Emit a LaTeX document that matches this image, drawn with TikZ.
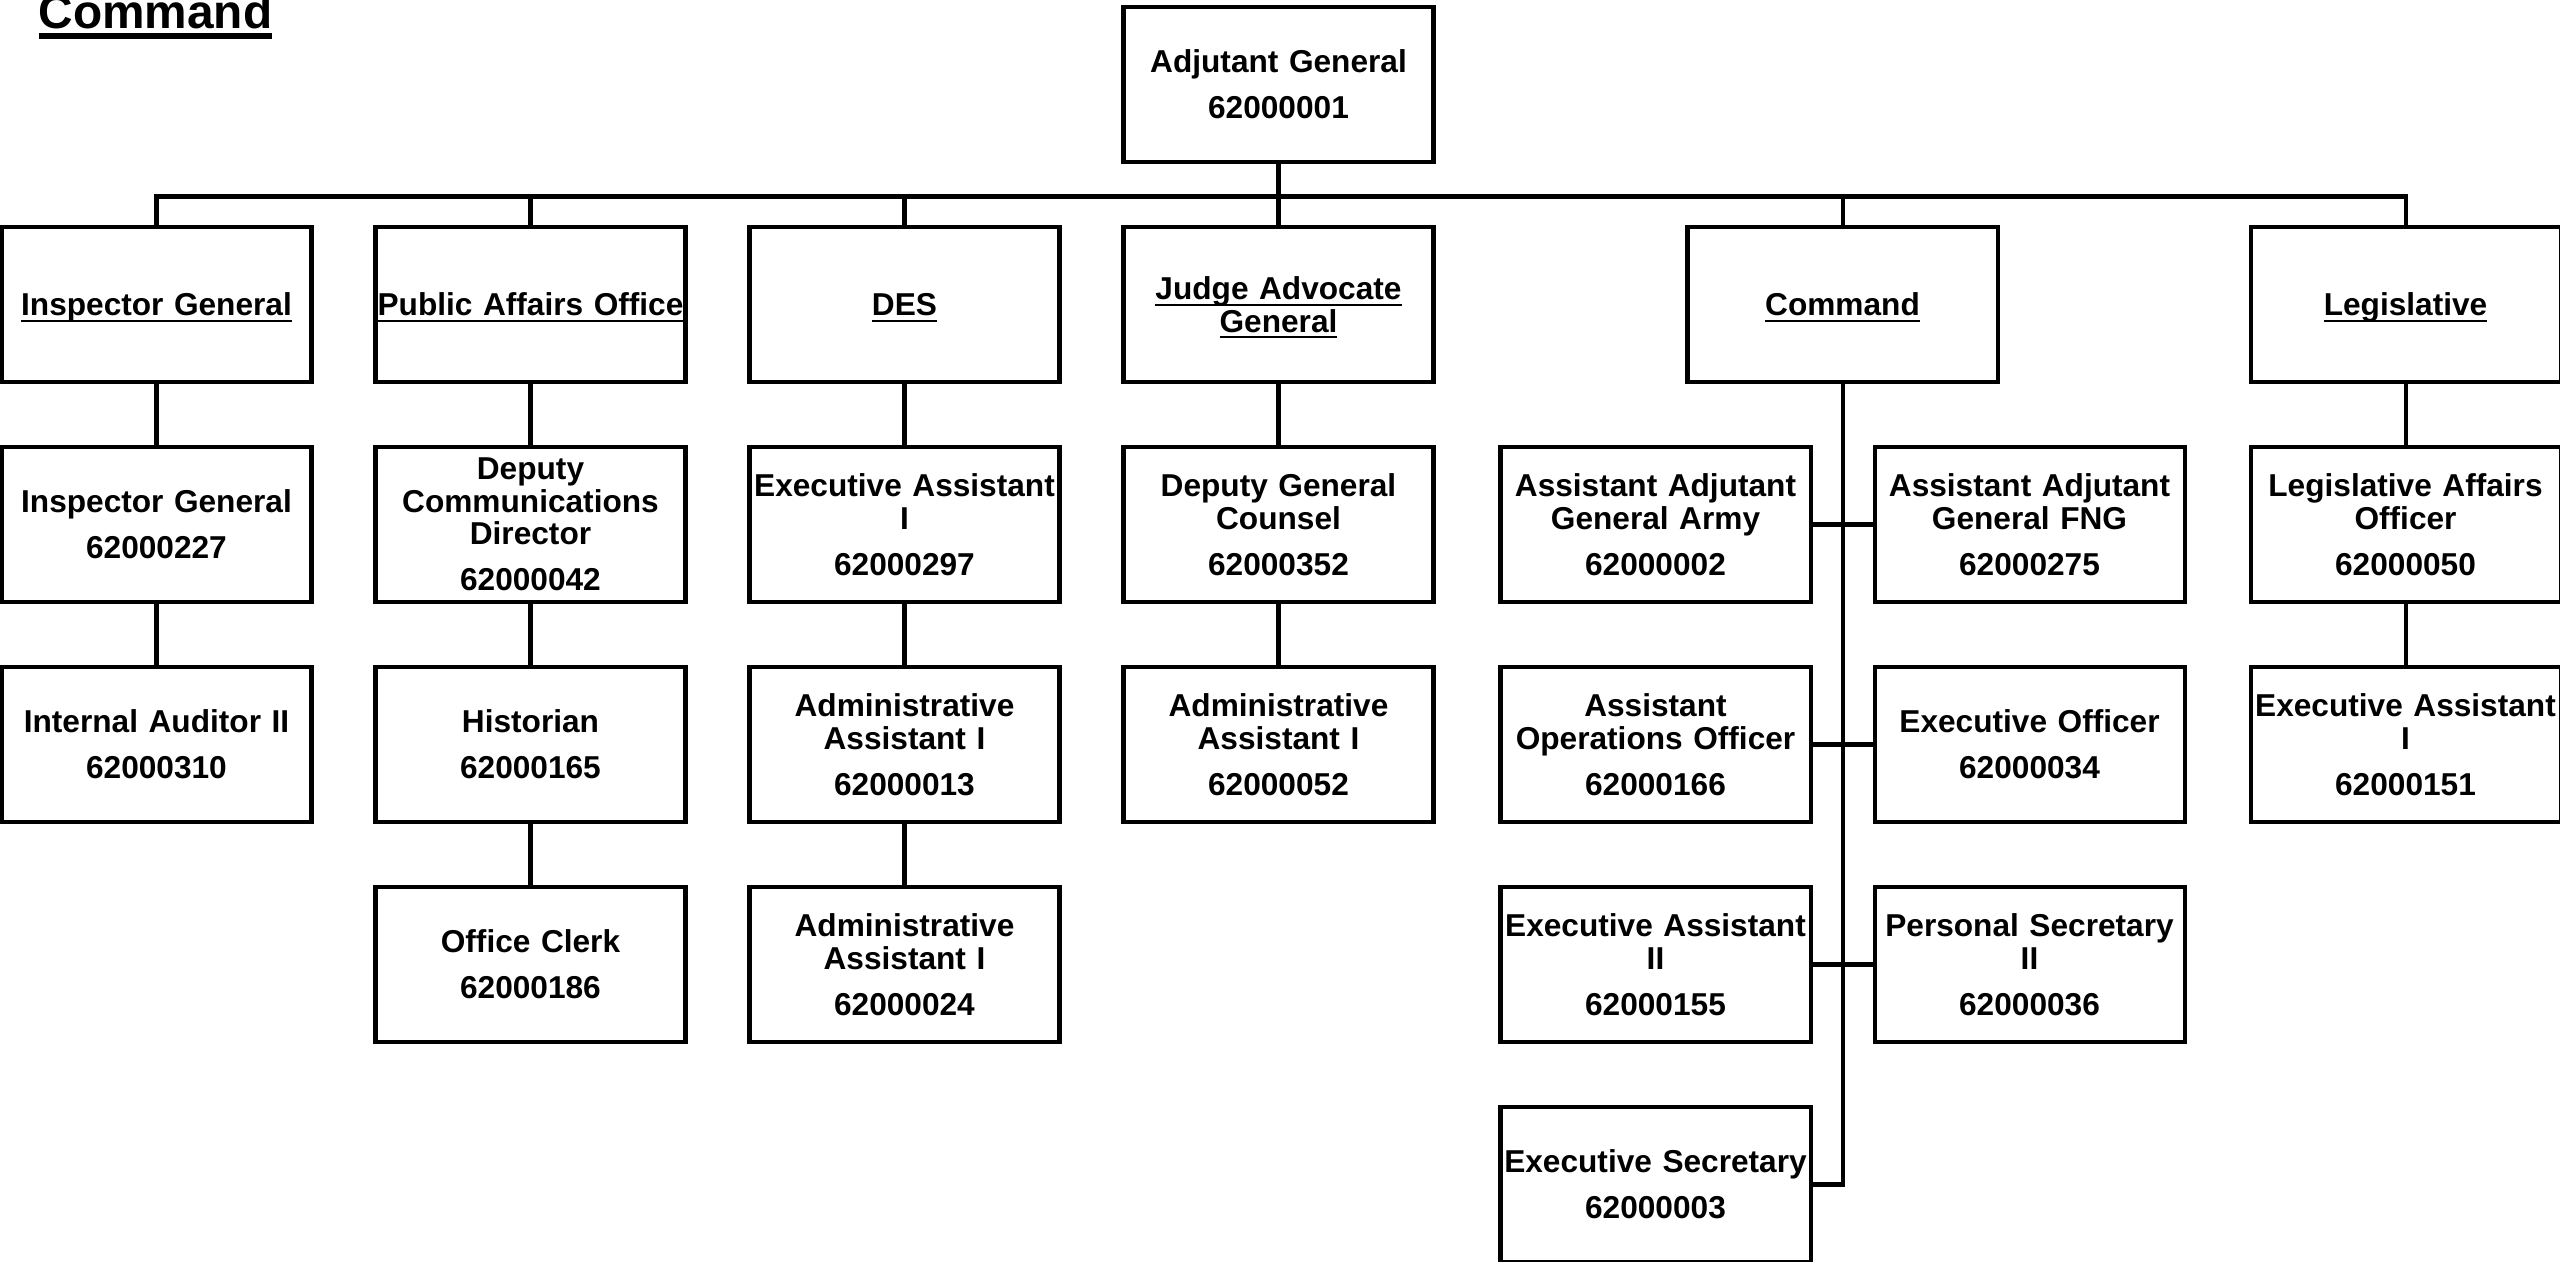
\documentclass[tikz,border=0pt]{standalone}
\usepackage{fontspec}
\setmainfont{Liberation Sans}
\usetikzlibrary{positioning}

\newcommand{\ulwith}[3]{\setbox0\hbox{#3}\rlap{\rule[-#1]{\wd0}{#2}}\box0}
\newcommand{\hdline}[1]{\raisebox{0pt}[\height][0pt]{\ulwith{1.75pt}{0.6pt}{#1}}}
\newcommand{\post}[2]{#1\\[3.8pt]#2}

\begin{document}
\begin{tikzpicture}[node distance=2.2cm and 3.74cm,on grid,
			box/.style={rectangle, draw, line width=1.15pt, inner xsep=0pt, inner ysep=0pt,
				text width=3.1cm, minimum height=1.55cm, align=center,
				font=\fontsize{9}{9.3}\selectfont\bfseries},
			link/.style={line width=1.15pt}
		]
		\useasboundingbox (0,0) rectangle (25.6,-12.62);
		
		\node[anchor=base west, inner sep=0pt, font=\fontsize{13.6}{16}\selectfont\bfseries] (title) at (0.38,-0.29) {\ulwith{2.75pt}{1.5pt}{Command}};
		
		\node[box] (ag) at (12.785,-0.845) {\post{Adjutant General}{62000001}};
		
		\node[box] (jag_1) [below=of ag] {\hdline{Judge Advocate}\\\hdline{General}};
		\node[box] (des_1) [left=of jag_1] {\hdline{DES}};
		\node[box] (pa_1) [left=of des_1] {\hdline{Public Affairs Office}};
		\node[box] (ig_1) [left=of pa_1] {\hdline{Inspector General}};
		\node[box] (cmd_1) [right=of jag_1, xshift=1.9cm] {\hdline{Command}};
		\node[box] (leg_1) [right=of cmd_1, xshift=1.89cm] {\hdline{Legislative}};
		
		\node[box] (ig_2) [below=of ig_1] {\post{Inspector General}{62000227}};
		\node[box] (ig_3) [below=of ig_2] {\post{Internal Auditor II}{62000310}};
		
		\node[box] (pa_2) [below=of pa_1] {\post{Deputy\\Communications\\Director}{62000042}};
		\node[box] (pa_3) [below=of pa_2] {\post{Historian}{62000165}};
		\node[box] (pa_4) [below=of pa_3] {\post{Office Clerk}{62000186}};
		
		\node[box] (des_2) [below=of des_1] {\post{Executive Assistant\\I}{62000297}};
		\node[box] (des_3) [below=of des_2] {\post{Administrative\\Assistant I}{62000013}};
		\node[box] (des_4) [below=of des_3] {\post{Administrative\\Assistant I}{62000024}};
		
		\node[box] (jag_2) [below=of jag_1] {\post{Deputy General\\Counsel}{62000352}};
		\node[box] (jag_3) [below=of jag_2] {\post{Administrative\\Assistant I}{62000052}};
		
		\node[box] (cmd_l2) [below=of cmd_1, xshift=-1.87cm] {\post{Assistant Adjutant\\General Army}{62000002}};
		\node[box] (cmd_r2) [below=of cmd_1, xshift=1.87cm] {\post{Assistant Adjutant\\General FNG}{62000275}};
		\node[box] (cmd_l3) [below=of cmd_l2] {\post{Assistant\\Operations Officer}{62000166}};
		\node[box] (cmd_r3) [below=of cmd_r2] {\post{Executive Officer}{62000034}};
		\node[box] (cmd_l4) [below=of cmd_l3] {\post{Executive Assistant\\II}{62000155}};
		\node[box] (cmd_r4) [below=of cmd_r3] {\post{Personal Secretary\\II}{62000036}};
		\node[box] (cmd_l5) [below=of cmd_l4] {\post{Executive Secretary}{62000003}};
		
		\node[box] (leg_2) [below=of leg_1] {\post{Legislative Affairs\\Officer}{62000050}};
		\node[box] (leg_3) [below=of leg_2] {\post{Executive Assistant\\I}{62000151}};
		
		\draw[link] (ag.south) -- ++(0,-0.325) coordinate (bus);
		\foreach \u in {ig_1,pa_1,des_1,jag_1,cmd_1,leg_1}
			\draw[link] (\u.north) |- (bus);
		
		\foreach \a/\b in {ig_1/ig_2, ig_2/ig_3, pa_1/pa_2, pa_2/pa_3, pa_3/pa_4,
				des_1/des_2, des_2/des_3, des_3/des_4, jag_1/jag_2, jag_2/jag_3,
				leg_1/leg_2, leg_2/leg_3, cmd_l2/cmd_r2, cmd_l3/cmd_r3, cmd_l4/cmd_r4}
			\draw[link] (\a) -- (\b);
		
		\draw[link] (cmd_1.south) |- (cmd_l5.east);
	\end{tikzpicture}
\end{document}
